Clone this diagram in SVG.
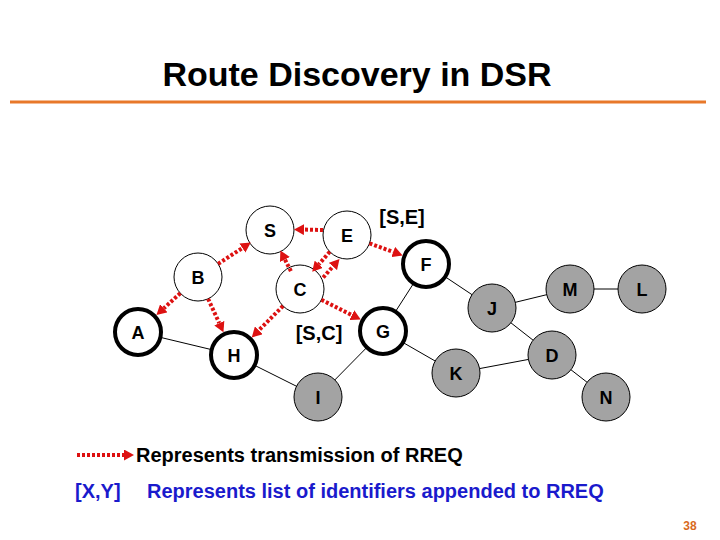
<svg xmlns="http://www.w3.org/2000/svg" width="720" height="540" viewBox="0 0 720 540">
<style>
text{font-family:"Liberation Sans",Arial,sans-serif;font-weight:bold}
.lbl{font-size:18px;text-anchor:middle;fill:#000}
.tag{font-size:20px;text-anchor:middle;fill:#000}
.thin{fill:#fff;stroke:#000;stroke-width:1}
.thick{fill:#fff;stroke:#000;stroke-width:4}
.grey{fill:#a3a3a3;stroke:#000;stroke-width:1}
.link{stroke:#000;stroke-width:1;fill:none}
.rreq{stroke:#dd1111;stroke-width:4;stroke-dasharray:3 2;fill:none;marker-end:url(#ah)}
</style>
<defs>
<marker id="ah" markerUnits="userSpaceOnUse" markerWidth="10" markerHeight="11" viewBox="0 -5.5 10 11" refX="0" refY="0" orient="auto">
<path d="M0,-5.5 L10,0 L0,5.5 z" fill="#dd1111"/>
</marker>
</defs>
<rect width="720" height="540" fill="#fff"/>
<text x="357" y="86" font-size="34" text-anchor="middle" fill="#000">Route Discovery in DSR</text>
<line x1="10" y1="102" x2="706" y2="102" stroke="#e8782a" stroke-width="3"/>
<g id="links">
<line class="link" x1="138" y1="332" x2="234" y2="355"/>
<line class="link" x1="234" y1="355" x2="318" y2="397"/>
<line class="link" x1="318" y1="397" x2="383" y2="331"/>
<line class="link" x1="383" y1="331" x2="426" y2="264"/>
<line class="link" x1="383" y1="331" x2="456" y2="373"/>
<line class="link" x1="426" y1="264" x2="492" y2="308"/>
<line class="link" x1="492" y1="308" x2="570" y2="289"/>
<line class="link" x1="570" y1="289" x2="642" y2="289"/>
<line class="link" x1="492" y1="308" x2="552" y2="355"/>
<line class="link" x1="456" y1="373" x2="552" y2="355"/>
<line class="link" x1="552" y1="355" x2="606" y2="397"/>
</g>
<g id="S"><circle class="thin" cx="270" cy="230" r="24"/><text class="lbl" x="270" y="236.5">S</text></g>
<g id="E"><circle class="thin" cx="347" cy="235" r="24"/><text class="lbl" x="347" y="241.5">E</text></g>
<g id="B"><circle class="thin" cx="198" cy="277" r="24"/><text class="lbl" x="198" y="283.5">B</text></g>
<g id="C"><circle class="thin" cx="300" cy="289" r="24"/><text class="lbl" x="300" y="295.5">C</text></g>
<g id="A"><circle class="thick" cx="138" cy="332" r="23"/><text class="lbl" x="138" y="338.5">A</text></g>
<g id="H"><circle class="thick" cx="234" cy="355" r="23"/><text class="lbl" x="234" y="361.5">H</text></g>
<g id="F"><circle class="thick" cx="426" cy="264" r="23"/><text class="lbl" x="426" y="270.5">F</text></g>
<g id="G"><circle class="thick" cx="383" cy="331" r="23"/><text class="lbl" x="383" y="337.5">G</text></g>
<g id="I"><circle class="grey" cx="318" cy="397" r="24"/><text class="lbl" x="318" y="403.5">I</text></g>
<g id="J"><circle class="grey" cx="492" cy="308" r="24"/><text class="lbl" x="492" y="314.5">J</text></g>
<g id="M"><circle class="grey" cx="570" cy="289" r="24"/><text class="lbl" x="570" y="295.5">M</text></g>
<g id="L"><circle class="grey" cx="642" cy="289" r="24"/><text class="lbl" x="642" y="295.5">L</text></g>
<g id="K"><circle class="grey" cx="456" cy="373" r="24"/><text class="lbl" x="456" y="379.5">K</text></g>
<g id="D"><circle class="grey" cx="552" cy="355" r="24"/><text class="lbl" x="552" y="361.5">D</text></g>
<g id="N"><circle class="grey" cx="606" cy="397" r="24"/><text class="lbl" x="606" y="403.5">N</text></g>
<g id="rreq">
<line class="rreq" x1="218.1" y1="263.9" x2="242.4" y2="248"/>
<line class="rreq" x1="323" y1="230" x2="304" y2="229.6"/>
<line class="rreq" x1="290.9" y1="271.2" x2="284.9" y2="259.4"/>
<line class="rreq" x1="329.8" y1="251.8" x2="318.8" y2="264.3"/>
<line class="rreq" x1="323.2" y1="277.5" x2="332.9" y2="266.5"/>
<line class="rreq" x1="180.3" y1="293.2" x2="163.8" y2="308.3"/>
<line class="rreq" x1="208.1" y1="298.8" x2="219.3" y2="323.2"/>
<line class="rreq" x1="283" y1="306" x2="258.8" y2="330.3"/>
<line class="rreq" x1="321.4" y1="299.8" x2="351.8" y2="315.1"/>
<line class="rreq" x1="369.5" y1="243.3" x2="393.2" y2="252"/>
</g>
<text class="tag" x="402" y="224">[S,E]</text>
<text class="tag" x="319" y="340">[S,C]</text>
<g id="legend">
<line class="rreq" x1="77" y1="455" x2="124" y2="455"/>
<text x="136" y="462" font-size="20" fill="#000">Represents transmission of RREQ</text>
<text x="75" y="498" font-size="20" fill="#1a1acc">[X,Y]</text>
<text x="147" y="498" font-size="20" fill="#1a1acc">Represents list of identifiers appended to RREQ</text>
</g>
<text x="690" y="530" font-size="12" text-anchor="middle" fill="#d86a1e">38</text>
</svg>
